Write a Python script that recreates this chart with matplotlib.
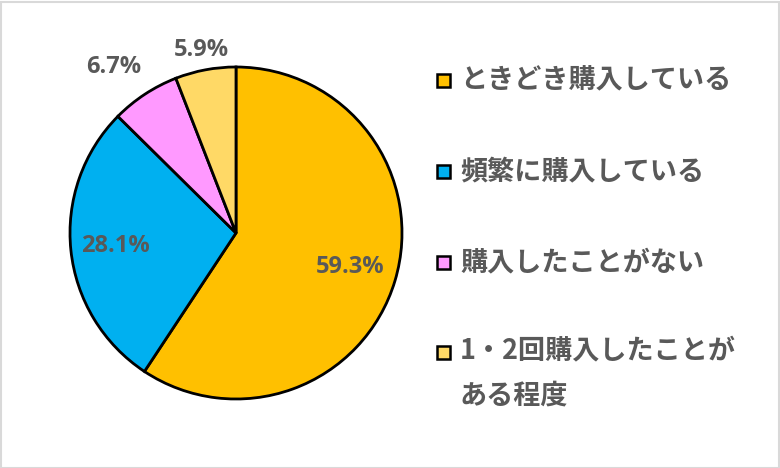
import matplotlib
matplotlib.use("Agg")
import matplotlib.pyplot as plt
from matplotlib.patches import Rectangle
import numpy as np

plt.rcParams["font.family"] = ["Noto Sans CJK JP", "DejaVu Sans"]

labels = ["ときどき購入している", "頻繁に購入している", "購入したことがない",
          "1・2回購入したことが\nある程度"]
shares = [59.3, 28.1, 6.7, 5.9]
colors = ["#FFC000", "#00B0F0", "#FF99FF", "#FFD966"]
text_col = "#595959"

fig = plt.figure(figsize=(7.8, 4.68), dpi=100)
W, H = 780, 468

# pie axes: centre (236, 233) px, radius 166 px
r_px = 166
ax = fig.add_axes([(236 - r_px) / W, (H - 233 - r_px) / H, 2 * r_px / W, 2 * r_px / H])
wedges, _ = ax.pie(shares, colors=colors, startangle=90, counterclock=False,
                   wedgeprops=dict(edgecolor="black", linewidth=2))
ax.set_xlim(-1, 1)
ax.set_ylim(-1, 1)
ax.set_aspect("equal")
ax.axis("off")

# percentage labels: inside for big slices, outside for small ones
label_r = [0.72, 0.73, 1.2, 1.12]
for w, v, rr in zip(wedges, shares, label_r):
    mid = np.deg2rad((w.theta1 + w.theta2) / 2)
    x, y = rr * np.cos(mid), rr * np.sin(mid)
    if rr > 1 and v == shares[2]:
        x -= 0.08
    ax.text(x, y, f"{v}%", ha="center", va="center", fontsize=17,
            fontweight="bold", color=text_col, family=["Open Sans", "DejaVu Sans"],
            clip_on=False)

# legend drawn by hand so the wrapped label keeps its marker on line one
leg_y = [80, 171, 262, 352]
for lab, col, y in zip(labels, colors, leg_y):
    fig.patches.append(Rectangle((437 / W, (H - y - 7) / H), 13 / W, 13 / H,
                                 transform=fig.transFigure, facecolor=col,
                                 edgecolor="black", linewidth=1.8))
    if "\n" in lab:
        fig.text(460 / W, (H - y + 16) / H, lab, ha="left", va="top",
                 fontsize=19.5, fontweight="bold", color=text_col, linespacing=1.8)
    else:
        fig.text(460 / W, (H - y) / H, lab, ha="left", va="center",
                 fontsize=19.5, fontweight="bold", color=text_col)

# thin grey frame around the chart
fig.patches.append(Rectangle((0.5 / W, 0.5 / H), 1 - 2 / W, 1 - 2 / H,
                             transform=fig.transFigure, fill=False,
                             edgecolor="#D9D9D9", linewidth=1.5))

fig.savefig("out.png", dpi=100)
